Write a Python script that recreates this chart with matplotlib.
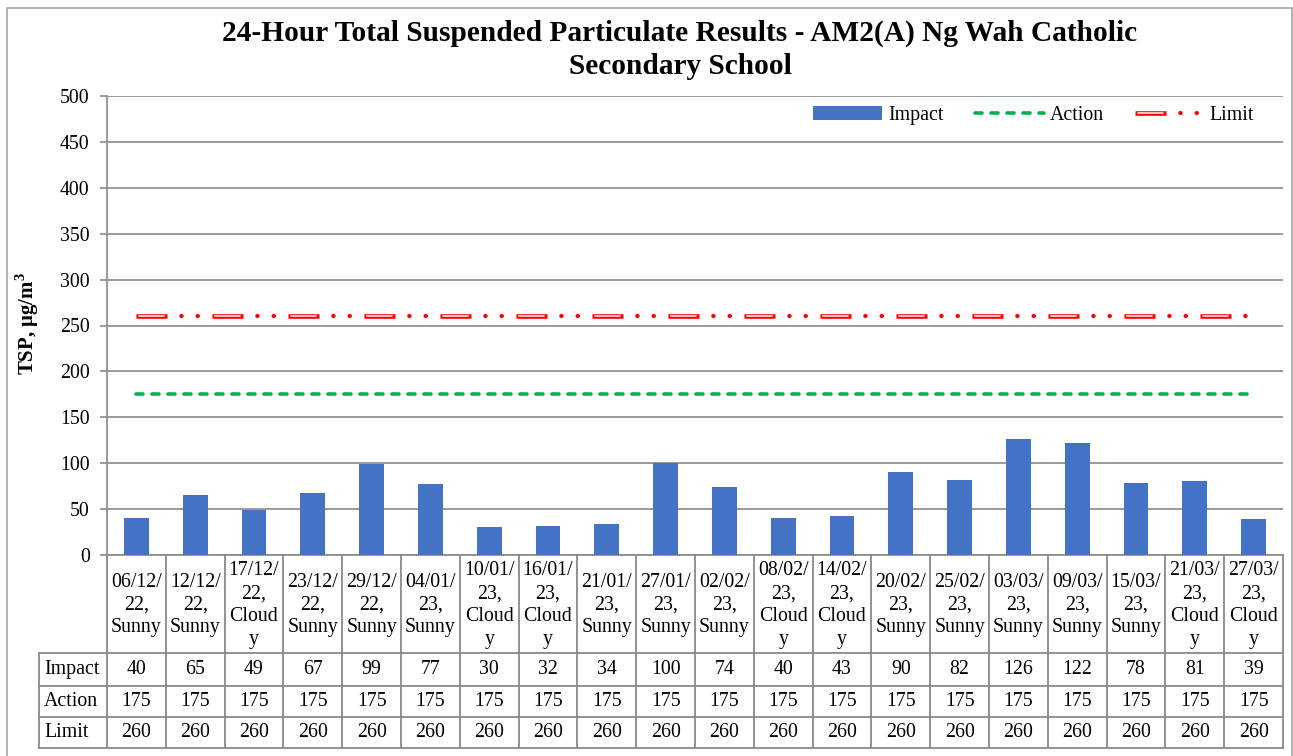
import matplotlib
matplotlib.use("Agg")
import matplotlib.pyplot as plt
from matplotlib.lines import Line2D
from matplotlib.patches import Rectangle
from matplotlib.legend_handler import HandlerTuple
import matplotlib.transforms as mtransforms

plt.rcParams['font.family'] = ['Liberation Serif', 'DejaVu Serif']
plt.rcParams['lines.scale_dashes'] = False

categories = ["06/12/\n22,\nSunny", "12/12/\n22,\nSunny", "17/12/\n22,\nCloud\ny", "23/12/\n22,\nSunny",
              "29/12/\n22,\nSunny", "04/01/\n23,\nSunny", "10/01/\n23,\nCloud\ny", "16/01/\n23,\nCloud\ny",
              "21/01/\n23,\nSunny", "27/01/\n23,\nSunny", "02/02/\n23,\nSunny", "08/02/\n23,\nCloud\ny",
              "14/02/\n23,\nCloud\ny", "20/02/\n23,\nSunny", "25/02/\n23,\nSunny", "03/03/\n23,\nSunny",
              "09/03/\n23,\nSunny", "15/03/\n23,\nSunny", "21/03/\n23,\nCloud\ny", "27/03/\n23,\nCloud\ny"]
impact = [40, 65, 49, 67, 99, 77, 30, 32, 34, 100, 74, 40, 43, 90, 82, 126, 122, 78, 81, 39]
action = [175] * 20
limit = [260] * 20
series_names = ["Impact", "Action", "Limit"]
yticks = [0, 50, 100, 150, 200, 250, 300, 350, 400, 450, 500]

W, H = 1293, 756
fig = plt.figure(figsize=(W / 100, H / 100), dpi=100)

def fx(px):
    return px / W

def fy(py):
    return 1 - py / H

GRAY = "#898989"
px2pt = 0.72
FS = 14.3

# outer frame
fig.patches.append(Rectangle((fx(7), fy(760)), fx(1292) - fx(7), fy(8) - fy(760),
                             transform=fig.transFigure, fill=False, edgecolor="#a6a6a6", lw=1.2))

ax_l, ax_r, ax_t, ax_b = 107, 1283, 96, 555
ax = fig.add_axes([fx(ax_l), fy(ax_b), fx(ax_r) - fx(ax_l), fy(ax_t) - fy(ax_b)])
n = len(categories)
x = list(range(n))
ax.set_xlim(-0.5, n - 0.5)
ax.set_ylim(0, 500)
ax.set_yticks(yticks)
ax.tick_params(axis='y', labelsize=FS, length=5, color=GRAY, width=1.2, pad=7.5)
ax.tick_params(axis='x', bottom=False, labelbottom=False)
ax.yaxis.grid(True, color=GRAY, lw=1.2)
ax.set_axisbelow(True)
for s in ['top', 'right']:
    ax.spines[s].set_visible(False)
for s in ['left', 'bottom']:
    ax.spines[s].set_color(GRAY)
    ax.spines[s].set_linewidth(1.2)

bars = ax.bar(x, impact, width=0.42, color="#4472C4", zorder=3)

green, = ax.plot(x, action, color="#00B050", lw=3.6 * px2pt, solid_capstyle='round',
                 dash_capstyle='round', linestyle=(0, (7 * px2pt, 9 * px2pt)), zorder=4)

period = 76
red_out, = ax.plot(x, limit, color="#FF0000", lw=4.6 * px2pt, dash_capstyle='butt',
                   linestyle=(0, (31 * px2pt, (period - 31) * px2pt)), zorder=4)
red_in, = ax.plot(x, limit, color="white", lw=1.5 * px2pt, dash_capstyle='butt',
                  linestyle=((period - 2.4) * px2pt, (26.2 * px2pt, (period - 26.2) * px2pt)), zorder=5)
red_dot, = ax.plot(x, limit, color="#FF0000", lw=4.2 * px2pt, dash_capstyle='round',
                   linestyle=((period - 45.3) * px2pt,
                              (0.3 * px2pt, 16 * px2pt, 0.3 * px2pt, (period - 16.6) * px2pt)),
                   zorder=5)

leg = ax.legend([bars, green, (red_out, red_in, red_dot)], series_names,
                handler_map={tuple: HandlerTuple(ndivide=1)},
                loc='upper right', bbox_to_anchor=(0.984, 1.0), ncol=3, frameon=False,
                fontsize=FS, handlelength=3.45, handletextpad=0.3, columnspacing=1.6,
                borderaxespad=0.1)

# title & y-label
fig.text(fx(680), fy(33), "24-Hour Total Suspended Particulate Results - AM2(A) Ng Wah Catholic",
         ha='center', va='center', fontsize=21.2, fontweight='bold')
fig.text(fx(680), fy(67), "Secondary School", ha='center', va='center', fontsize=21.2, fontweight='bold')
fig.text(fx(27), fy(323), "TSP, \u03bcg/m$^\\mathregular{3}$", rotation=90, ha='center', va='center',
         fontsize=15, fontweight='bold')

# data table
tr = mtransforms.blended_transform_factory(ax.transData, fig.transFigure)
line_kw = dict(color=GRAY, lw=1.3, clip_on=False)
hdr_top = 555
row_edges = [653, 686, 717, 748]
lab_left = 39
for i in range(n + 1):
    xv = i - 0.5
    fig.add_artist(Line2D([xv, xv], [fy(hdr_top), fy(row_edges[-1])], transform=tr, **line_kw))
for yy in row_edges:
    fig.add_artist(Line2D([fx(lab_left), fx(ax_r)], [fy(yy), fy(yy)], transform=fig.transFigure, **line_kw))
fig.add_artist(Line2D([fx(lab_left), fx(lab_left)], [fy(row_edges[0]), fy(row_edges[-1])],
                      transform=fig.transFigure, **line_kw))

for i, c in enumerate(categories):
    fig.text(i, fy(605), c, transform=tr, ha='center', va='center', fontsize=FS, linespacing=1.27)

rows = [impact, action, limit]
for r, (name, vals) in enumerate(zip(series_names, rows)):
    yc = (row_edges[r] + row_edges[r + 1]) / 2
    fig.text(fx(44), fy(yc), name, ha='left', va='center', fontsize=FS)
    for i, v in enumerate(vals):
        fig.text(i, fy(yc), str(v), transform=tr, ha='center', va='center', fontsize=FS)

fig.savefig("out.png", dpi=100)
